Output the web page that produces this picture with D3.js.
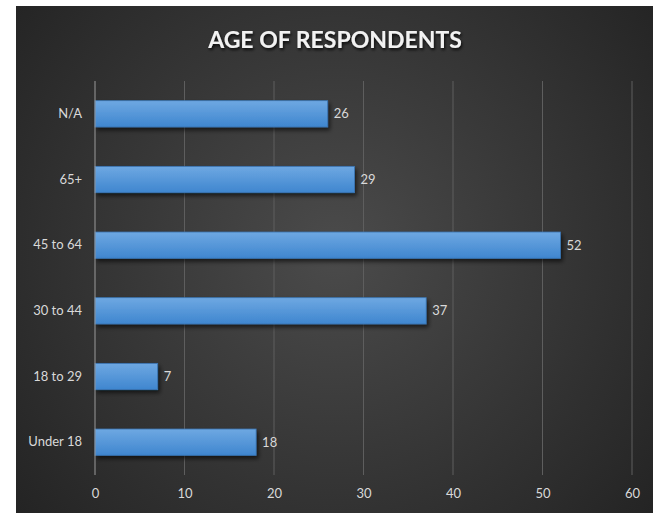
<!DOCTYPE html>
<html><head><meta charset="utf-8">
<script src="https://cdn.jsdelivr.net/npm/d3@7"></script>
<style>body{margin:0;background:#fff}svg{display:block}</style>
</head><body>
<script>
const categories = ["N/A","65+","45 to 64","30 to 44","18 to 29","Under 18"];
const values = [26,29,52,37,7,18];
const xTicks = [0,10,20,30,40,50,60];
const title = "AGE OF RESPONDENTS";

const W=655,H=514;
const svg=d3.select("body").append("svg").attr("width",W).attr("height",H);
const defs=svg.append("defs");
const rg=defs.append("radialGradient").attr("id","bg").attr("gradientUnits","userSpaceOnUse")
  .attr("cx",335).attr("cy",250).attr("r",420);
rg.append("stop").attr("offset","0").attr("stop-color","#4b4b4b");
rg.append("stop").attr("offset","1").attr("stop-color","#232323");
const bgr=defs.append("linearGradient").attr("id","bar").attr("x1",0).attr("y1",0).attr("x2",0).attr("y2",1);
bgr.append("stop").attr("offset","0").attr("stop-color","#6ea8e2");
bgr.append("stop").attr("offset","1").attr("stop-color","#3f86cf");
const sh=defs.append("filter").attr("id","sh").attr("x","-10%").attr("y","-30%").attr("width","130%").attr("height","180%");
sh.append("feDropShadow").attr("dx",2).attr("dy",3).attr("stdDeviation",2).attr("flood-color","#000").attr("flood-opacity",0.6);
const tsh=defs.append("filter").attr("id","tsh");
tsh.append("feDropShadow").attr("dx",1).attr("dy",2).attr("stdDeviation",1.5).attr("flood-color","#000").attr("flood-opacity",0.8);

svg.append("rect").attr("x",16).attr("y",6).attr("width",637).attr("height",507).attr("fill","url(#bg)");

svg.append("text").attr("x",335).attr("y",48).attr("text-anchor","middle")
  .attr("font-family","Lato, 'Open Sans', sans-serif").attr("font-weight","bold").attr("font-size",23)
  .attr("fill","#f2f2f2").attr("filter","url(#tsh)").text(title);

const x=d3.scaleLinear().domain([0,60]).range([95,632]);
const y=d3.scaleBand().domain(categories).range([81,475]).paddingInner(0.6).paddingOuter(0.3);

const font="Lato, 'Open Sans', sans-serif";
// gridlines
svg.append("g").selectAll("line").data(xTicks.slice(1)).join("line")
  .attr("x1",d=>x(d)).attr("x2",d=>x(d)).attr("y1",81).attr("y2",475)
  .attr("stroke","#5e5e5e").attr("stroke-width",1);

// x axis labels
const xa=svg.append("g").attr("transform","translate(0,475)")
  .call(d3.axisBottom(x).tickValues(xTicks).tickSize(0).tickPadding(14));
xa.select(".domain").remove();
xa.selectAll("text").attr("font-family",font).attr("font-size",13).attr("fill","#d9d9d9");

// bars
svg.append("g").selectAll("rect").data(values).join("rect")
  .attr("x",x(0)).attr("y",(d,i)=>y(categories[i]))
  .attr("width",d=>x(d)-x(0)).attr("height",y.bandwidth())
  .attr("fill","url(#bar)").attr("stroke","#3a76b5").attr("stroke-width",0.8)
  .attr("filter","url(#sh)");

// y axis
const ya=svg.append("g").attr("transform","translate(95,0)")
  .call(d3.axisLeft(y).tickSize(0).tickPadding(13));
ya.select(".domain").remove();
ya.selectAll("text").attr("font-family",font).attr("font-size",13).attr("fill","#d9d9d9");
svg.append("line").attr("x1",95).attr("x2",95).attr("y1",81).attr("y2",475).attr("stroke","#9a9a9a").attr("stroke-width",1);

// value labels
svg.append("g").selectAll("text").data(values).join("text")
  .attr("x",d=>x(d)+6).attr("y",(d,i)=>y(categories[i])+y.bandwidth()/2)
  .attr("dy","0.35em").attr("font-family",font).attr("font-size",13).attr("fill","#d9d9d9")
  .text(d=>d);
</script>
</body></html>
